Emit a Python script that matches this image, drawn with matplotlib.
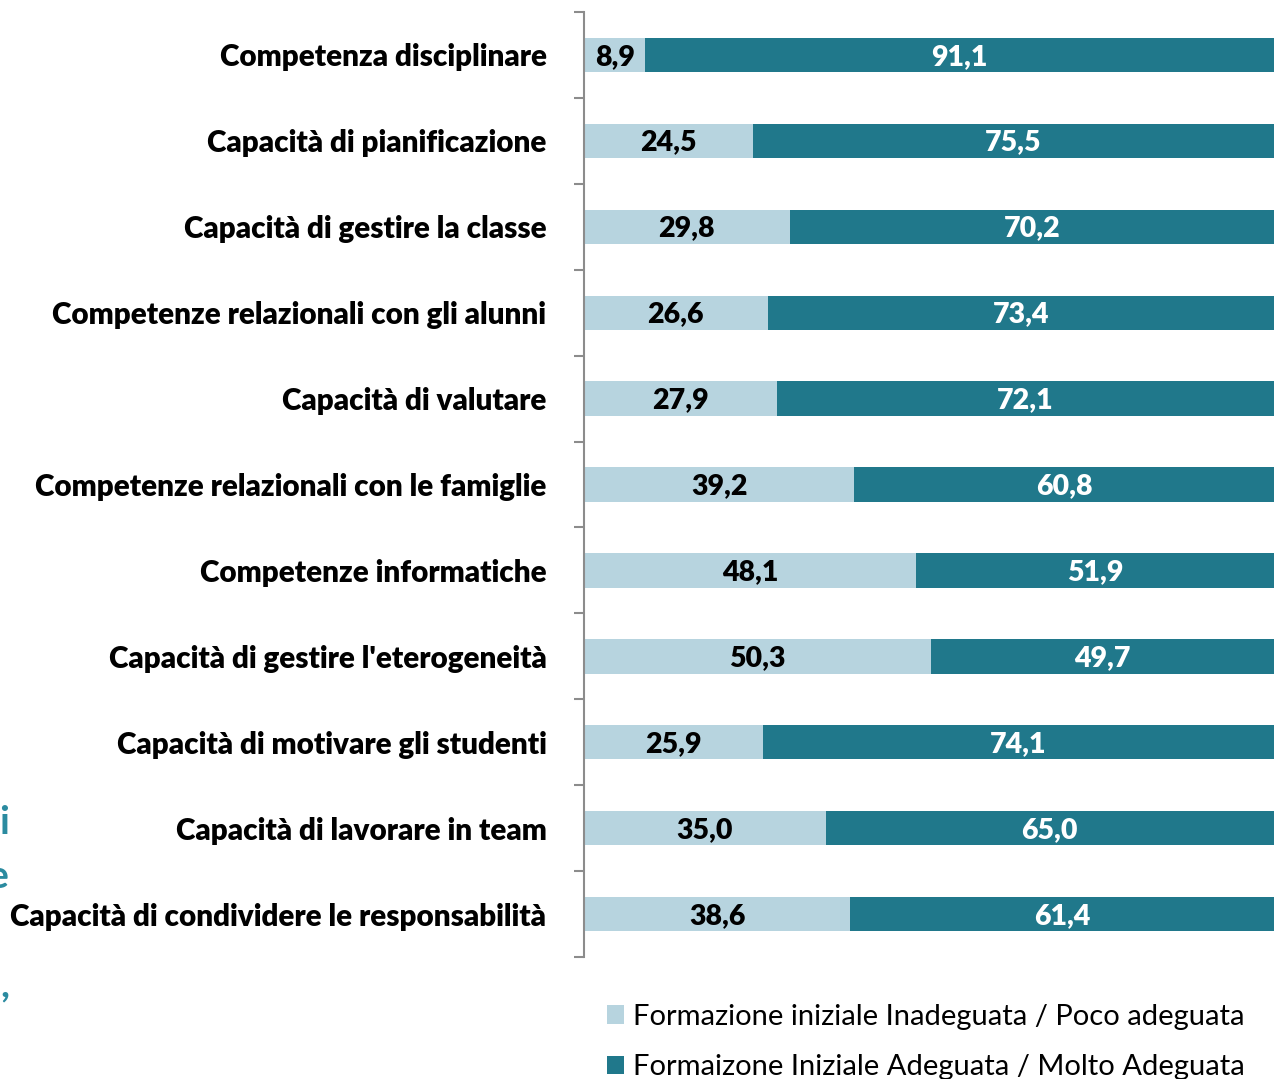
import numpy as np
import matplotlib.pyplot as plt

categories = [
    "Competenza disciplinare",
    "Capacità di pianificazione",
    "Capacità di gestire la classe",
    "Competenze relazionali con gli alunni",
    "Capacità di valutare",
    "Competenze relazionali con le famiglie",
    "Competenze informatiche",
    "Capacità di gestire l'eterogeneità",
    "Capacità di motivare gli studenti",
    "Capacità di lavorare in team",
    "Capacità di condividere le responsabilità",
]
inadeguata = [8.9, 24.5, 29.8, 26.6, 27.9, 39.2, 48.1, 50.3, 25.9, 35.0, 38.6]
adeguata = [91.1, 75.5, 70.2, 73.4, 72.1, 60.8, 51.9, 49.7, 74.1, 65.0, 61.4]
series_names = ["Formazione iniziale Inadeguata / Poco adeguata",
                "Formaizone Iniziale Adeguata / Molto Adeguata"]

c_light = "#b7d4df"
c_dark = "#20788b"

plt.rcParams['font.family'] = ['Lato', 'DejaVu Sans']

fig = plt.figure(figsize=(12.74, 10.79), dpi=100)
W, H = 1274, 1079
ax = fig.add_axes([584 / W, 1 - 957 / H, (1274 - 584) / W, (957 - 12) / H])

y = np.arange(len(categories))
light = np.array(inadeguata)
dark = np.array(adeguata)
ax.barh(y, light, height=0.4, color=c_light, label=series_names[0])
ax.barh(y, dark, left=light, height=0.4, color=c_dark, label=series_names[1])

fmt = lambda v: f"{v:.1f}".replace(".", ",")
for i in range(len(categories)):
    ax.text(light[i] / 2, y[i] + 0.02, fmt(light[i]), ha="center", va="center",
            fontsize=20.5, fontweight="heavy", color="black")
    ax.text(light[i] + dark[i] / 2, y[i] + 0.02, fmt(dark[i]), ha="center", va="center",
            fontsize=20.5, fontweight="heavy", color="white")

ax.set_xlim(0, 100)
ax.set_ylim(len(categories) - 0.5, -0.5)
ax.set_xticks([])
for s in ["top", "right", "bottom"]:
    ax.spines[s].set_visible(False)
ax.spines["left"].set_color("#8c8c8c")
ax.spines["left"].set_linewidth(1.5)

ax.set_yticks(np.arange(len(categories) + 1) - 0.5)
ax.set_yticklabels([])
ax.tick_params(axis="y", which="major", length=7, width=1.5, color="#8c8c8c")
ax.set_yticks(y, minor=True)
ax.set_yticklabels(categories, minor=True, fontsize=21.3, fontweight="heavy")
ax.tick_params(axis="y", which="minor", length=0, pad=27)

# legend, placed under the bars
fig.legend(loc="upper left", bbox_to_anchor=(595 / W, 1 - 992 / H),
           frameon=False, fontsize=21, handlelength=0.6, handleheight=0.6,
           handletextpad=0.3, labelspacing=0.85, borderaxespad=0)

# cut-off slide text on the left edge
for txt, yy in [("i", 822), ("e", 877), (",", 985)]:
    fig.text(9 / W, 1 - yy / H, txt, ha="right", va="center", fontsize=28,
             fontweight="bold", color="#2b8ba0")

fig.savefig("out.png", dpi=100)
